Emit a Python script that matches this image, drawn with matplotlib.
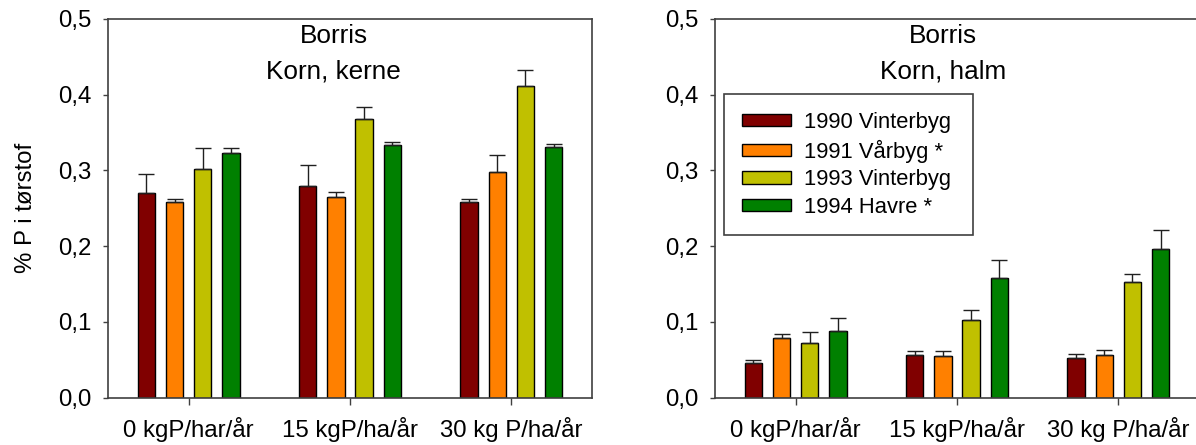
import numpy as np
import matplotlib
matplotlib.use("Agg")
import matplotlib.pyplot as plt
from matplotlib.ticker import FuncFormatter

plt.rcParams["font.family"] = ["Liberation Sans", "DejaVu Sans"]
plt.rcParams["font.size"] = 17.3

# Gødningsniveauer og afgrøder
categories = ["0 kgP/har/år", "15 kgP/ha/år", "30 kg P/ha/år"]
series = ["1990 Vinterbyg", "1991 Vårbyg *", "1993 Vinterbyg", "1994 Havre *"]
colors = ["#800000", "#ff8000", "#c0c000", "#008000"]

# % P i tørstof, kerne (middel og spredning)
kerne = [
    [0.270, 0.280, 0.258],
    [0.258, 0.265, 0.298],
    [0.302, 0.368, 0.412],
    [0.323, 0.333, 0.331],
]
kerne_err = [
    [0.025, 0.027, 0.004],
    [0.004, 0.006, 0.022],
    [0.028, 0.016, 0.021],
    [0.007, 0.005, 0.004],
]

# % P i tørstof, halm
halm = [
    [0.045, 0.056, 0.052],
    [0.078, 0.055, 0.056],
    [0.072, 0.102, 0.152],
    [0.088, 0.158, 0.196],
]
halm_err = [
    [0.005, 0.006, 0.005],
    [0.006, 0.006, 0.007],
    [0.015, 0.013, 0.011],
    [0.017, 0.023, 0.025],
]

W, H = 1196, 445
fig = plt.figure(figsize=(W / 100, H / 100), dpi=100)
ax1 = fig.add_axes([108 / W, 47.5 / H, 484 / W, 378.5 / H])
ax2 = fig.add_axes([715 / W, 47.5 / H, 484 / W, 378.5 / H])

comma = FuncFormatter(lambda v, p: f"{v:.1f}".replace(".", ","))
spine_col = "#404040"


def draw_panel(ax, values, errors, subtitle, title_x):
    x = np.arange(len(categories))
    step, width = 0.175, 0.108
    for i, (vals, errs) in enumerate(zip(values, errors)):
        pos = x + (i - 1.5) * step
        ax.bar(pos, vals, width=width, color=colors[i], edgecolor="black",
               linewidth=1.0, label=series[i], zorder=2)
        ax.errorbar(pos, vals, yerr=[np.zeros(len(errs)), errs], fmt="none",
                    ecolor="#202020", elinewidth=1.0, capsize=6, capthick=1.0,
                    zorder=3)
    ax.set_xlim(-0.5, 2.5)
    ax.set_ylim(0, 0.5)
    ax.set_yticks(np.arange(0, 0.51, 0.1))
    ax.yaxis.set_major_formatter(comma)
    ax.set_xticks(x)
    ax.set_xticklabels(categories)
    ax.tick_params(axis="x", direction="out", length=5, width=1,
                   color=spine_col, pad=9)
    ax.tick_params(axis="y", direction="out", length=3.6, width=1,
                   color=spine_col, pad=8.5)
    for s in ax.spines.values():
        s.set_color(spine_col)
        s.set_linewidth(1.2)
    ax.text(title_x, 0.478, "Borris", ha="center", va="center", fontsize=18.8)
    ax.text(title_x, 0.431, subtitle, ha="center", va="center", fontsize=18.8)


draw_panel(ax1, kerne, kerne_err, "Korn, kerne", 0.9)
ax1.set_ylabel("% P i tørstof", labelpad=15)

draw_panel(ax2, halm, halm_err, "Korn, halm", 0.915)

leg = ax2.legend(loc="upper left", bbox_to_anchor=(0.0186, 0.801, 0.515, 0),
                 mode="expand", fontsize=15.8, fancybox=False, framealpha=1,
                 edgecolor=spine_col, handlelength=2.24, handleheight=0.49,
                 handletextpad=0.6, labelspacing=0.3, borderpad=0.8,
                 borderaxespad=0)
leg.get_frame().set_linewidth(1.2)

fig.savefig("out.png", dpi=100)
